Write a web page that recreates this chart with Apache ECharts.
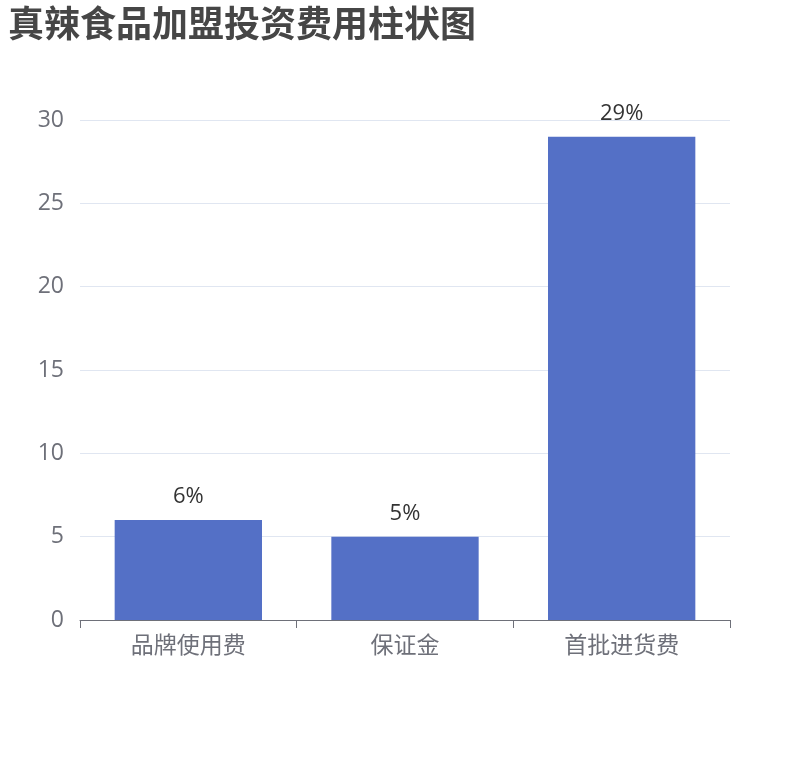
<!DOCTYPE html>
<html><head><meta charset="utf-8">
<script src="https://cdn.jsdelivr.net/npm/echarts@6/dist/echarts.min.js"></script>
<style>html,body{margin:0;padding:0;background:#fff}#c{width:810px;height:760px}</style>
</head><body><div id="c"></div>
<script>
const titleText = '真辣食品加盟投资费用柱状图';
const categories = ['品牌使用费', '保证金', '首批进货费'];
const values = [6, 5, 29];
const yTicks = [0, 5, 10, 15, 20, 25, 30];

const FONT = '"Open Sans", "Noto Sans CJK SC", sans-serif';
const chart = echarts.init(document.getElementById('c'));
chart.setOption({
  textStyle: { fontFamily: FONT },
  title: {
    text: titleText, left: 3, top: 0,
    textStyle: { fontSize: 36, fontWeight: 'bold', color: '#464646', fontFamily: '"Noto Sans CJK SC", sans-serif' }
  },
  grid: { left: 80, right: 80, top: 120, bottom: 140, containLabel: false },
  xAxis: {
    type: 'category', data: categories,
    axisLine: { show: true, lineStyle: { color: '#6e7079' } },
    axisTick: { show: true, length: 8, lineStyle: { color: '#6e7079' } },
    axisLabel: { fontSize: 23, color: '#6e7079', margin: 15, fontFamily: FONT }
  },
  yAxis: {
    type: 'value', min: yTicks[0], max: yTicks[yTicks.length - 1], interval: 5,
    axisLabel: { fontSize: 23, color: '#6e7079', margin: 16, fontFamily: FONT },
    splitLine: { lineStyle: { color: '#e0e6f1' } }
  },
  series: [{
    type: 'bar', data: values, barWidth: '68%',
    itemStyle: { color: '#5470c6' },
    label: { show: true, position: 'top', distance: 12, formatter: '{c}%', fontSize: 22, color: '#333', fontFamily: FONT }
  }]
});
</script></body></html>
